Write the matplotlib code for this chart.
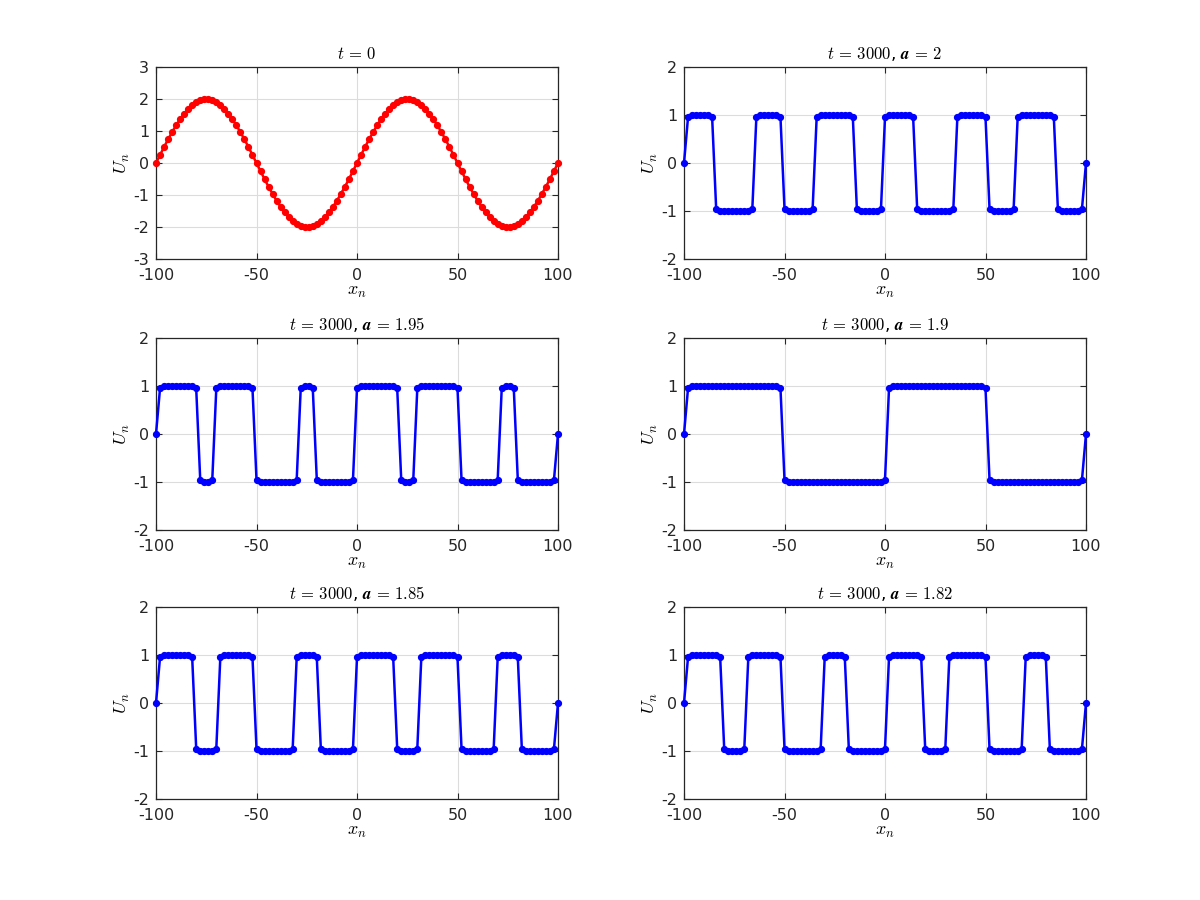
import numpy as np
import matplotlib
matplotlib.use("Agg")
import matplotlib.pyplot as plt

plt.rcParams['mathtext.fontset'] = 'cm'
plt.rcParams['axes.unicode_minus'] = False
plt.rcParams['font.family'] = ['DejaVu Sans']

# grid points x_n
x_n = np.arange(-100, 101, 2)

# t = 0 initial profile
u_t0 = [0.00, 0.25, 0.50, 0.74, 0.96, 1.18, 1.37, 1.54, 1.69, 1.81,
        1.90, 1.96, 2.00, 2.00, 1.96, 1.90, 1.81, 1.69, 1.54, 1.37,
        1.18, 0.96, 0.74, 0.50, 0.25, 0.00, -0.25, -0.50, -0.74, -0.96,
        -1.18, -1.37, -1.54, -1.69, -1.81, -1.90, -1.96, -2.00, -2.00, -1.96,
        -1.90, -1.81, -1.69, -1.54, -1.37, -1.18, -0.96, -0.74, -0.50, -0.25,
        0.00, 0.25, 0.50, 0.74, 0.96, 1.18, 1.37, 1.54, 1.69, 1.81,
        1.90, 1.96, 2.00, 2.00, 1.96, 1.90, 1.81, 1.69, 1.54, 1.37,
        1.18, 0.96, 0.74, 0.50, 0.25, 0.00, -0.25, -0.50, -0.74, -0.96,
        -1.18, -1.37, -1.54, -1.69, -1.81, -1.90, -1.96, -2.00, -2.00, -1.96,
        -1.90, -1.81, -1.69, -1.54, -1.37, -1.18, -0.96, -0.74, -0.50, -0.25,
        0.00]

# t = 3000, a = 2
u_a200 = [0,
          0.95, 1, 1, 1, 1, 1, 0.95,
          -0.95, -1, -1, -1, -1, -1, -1, -1, -1, -0.95,
          0.95, 1, 1, 1, 1, 1, 0.95,
          -0.95, -1, -1, -1, -1, -1, -1, -0.95,
          0.95, 1, 1, 1, 1, 1, 1, 1, 1, 0.95,
          -0.95, -1, -1, -1, -1, -1, -0.95,
          0.95, 1, 1, 1, 1, 1, 1, 0.95,
          -0.95, -1, -1, -1, -1, -1, -1, -1, -1, -0.95,
          0.95, 1, 1, 1, 1, 1, 1, 0.95,
          -0.95, -1, -1, -1, -1, -1, -0.95,
          0.95, 1, 1, 1, 1, 1, 1, 1, 1, 0.95,
          -0.95, -1, -1, -1, -1, -1, -0.95,
          0]

# t = 3000, a = 1.95
u_a195 = [0,
          0.95, 1, 1, 1, 1, 1, 1, 1, 1, 0.95,
          -0.95, -1, -1, -0.95,
          0.95, 1, 1, 1, 1, 1, 1, 1, 1, 0.95,
          -0.95, -1, -1, -1, -1, -1, -1, -1, -1, -1, -0.95,
          0.95, 1, 1, 0.95,
          -0.95, -1, -1, -1, -1, -1, -1, -1, -1, -0.95,
          0.95, 1, 1, 1, 1, 1, 1, 1, 1, 1, 0.95,
          -0.95, -1, -1, -0.95,
          0.95, 1, 1, 1, 1, 1, 1, 1, 1, 1, 0.95,
          -0.95, -1, -1, -1, -1, -1, -1, -1, -1, -0.95,
          0.95, 1, 1, 0.95,
          -0.95, -1, -1, -1, -1, -1, -1, -1, -1, -0.95,
          0]

# t = 3000, a = 1.9
u_a190 = [0,
          0.95, 1, 1, 1, 1, 1, 1, 1, 1, 1, 1, 1, 1, 1, 1, 1, 1, 1, 1, 1, 1, 1, 1, 0.95,
          -0.95, -1, -1, -1, -1, -1, -1, -1, -1, -1, -1, -1, -1, -1, -1, -1, -1, -1, -1, -1, -1, -1, -1, -1, -1, -0.95,
          0.95, 1, 1, 1, 1, 1, 1, 1, 1, 1, 1, 1, 1, 1, 1, 1, 1, 1, 1, 1, 1, 1, 1, 1, 0.95,
          -0.95, -1, -1, -1, -1, -1, -1, -1, -1, -1, -1, -1, -1, -1, -1, -1, -1, -1, -1, -1, -1, -1, -1, -0.95,
          0]

# t = 3000, a = 1.85
u_a185 = [0,
          0.95, 1, 1, 1, 1, 1, 1, 1, 0.95,
          -0.95, -1, -1, -1, -1, -0.95,
          0.95, 1, 1, 1, 1, 1, 1, 1, 0.95,
          -0.95, -1, -1, -1, -1, -1, -1, -1, -1, -0.95,
          0.95, 1, 1, 1, 1, 0.95,
          -0.95, -1, -1, -1, -1, -1, -1, -1, -0.95,
          0.95, 1, 1, 1, 1, 1, 1, 1, 1, 0.95,
          -0.95, -1, -1, -1, -1, -0.95,
          0.95, 1, 1, 1, 1, 1, 1, 1, 1, 0.95,
          -0.95, -1, -1, -1, -1, -1, -1, -1, -0.95,
          0.95, 1, 1, 1, 1, 0.95,
          -0.95, -1, -1, -1, -1, -1, -1, -1, -0.95,
          0]

# t = 3000, a = 1.82
u_a182 = [0,
          0.95, 1, 1, 1, 1, 1, 1, 1, 0.95,
          -0.95, -1, -1, -1, -1, -0.95,
          0.95, 1, 1, 1, 1, 1, 1, 1, 0.95,
          -0.95, -1, -1, -1, -1, -1, -1, -1, -1, -0.95,
          0.95, 1, 1, 1, 1, 0.95,
          -0.95, -1, -1, -1, -1, -1, -1, -1, -1, -0.95,
          0.95, 1, 1, 1, 1, 1, 1, 1, 0.95,
          -0.95, -1, -1, -1, -1, -0.95,
          0.95, 1, 1, 1, 1, 1, 1, 1, 1, 0.95,
          -0.95, -1, -1, -1, -1, -1, -1, -1, -0.95,
          0.95, 1, 1, 1, 1, 0.95,
          -0.95, -1, -1, -1, -1, -1, -1, -1, -0.95,
          0]

titles = [r'$t\,=\,0$',
          r'$t\,=\,3000$, $\boldsymbol{a}\,=\,2$',
          r'$t\,=\,3000$, $\boldsymbol{a}\,=\,1.95$',
          r'$t\,=\,3000$, $\boldsymbol{a}\,=\,1.9$',
          r'$t\,=\,3000$, $\boldsymbol{a}\,=\,1.85$',
          r'$t\,=\,3000$, $\boldsymbol{a}\,=\,1.82$']
series = [u_t0, u_a200, u_a195, u_a190, u_a185, u_a182]
colors = ['#ff0000', '#0000ff', '#0000ff', '#0000ff', '#0000ff', '#0000ff']
x_ticks = [-100, -50, 0, 50, 100]

fig = plt.figure(figsize=(12, 9), dpi=100)
lefts = [0.13, 0.57]
bottoms = [0.7122, 0.4111, 0.1122]
w, h = 0.335, 0.2133

for i, (u, c, ttl) in enumerate(zip(series, colors, titles)):
    row, col = divmod(i, 2)
    ax = fig.add_axes([lefts[col], bottoms[row], w, h])
    ax.plot(x_n, u, '-', color=c, lw=1.8, marker='o', ms=4.2,
            mfc=c, mec=c, zorder=3, clip_on=False)
    ax.set_xlim(-100, 100)
    if i == 0:
        ax.set_ylim(-3, 3)
        ax.set_yticks([-3, -2, -1, 0, 1, 2, 3])
    else:
        ax.set_ylim(-2, 2)
        ax.set_yticks([-2, -1, 0, 1, 2])
    ax.set_xticks(x_ticks)
    ax.grid(True, color='#dcdcdc', lw=0.8)
    ax.set_axisbelow(True)
    ax.tick_params(direction='in', top=True, right=True, length=4,
                   labelsize=11.5, colors='#262626', width=0.8)
    ax.tick_params(axis='x', pad=6.5)
    ax.tick_params(axis='y', pad=5)
    for s in ax.spines.values():
        s.set_color('#262626')
        s.set_linewidth(0.9)
    ax.set_title(ttl, fontsize=12, pad=6)
    ax.set_xlabel(r'$x_n$', fontsize=13, labelpad=-1)
    ax.set_ylabel(r'$U_n$', fontsize=13, labelpad=1)

fig.savefig('out.png', dpi=100)
